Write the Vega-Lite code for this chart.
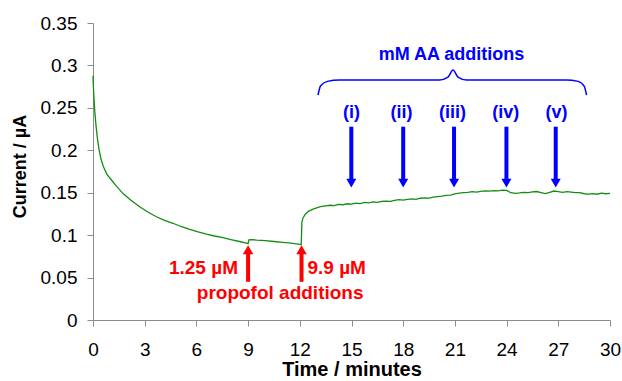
{
  "$schema": "https://vega.github.io/schema/vega-lite/v6.json",
  "width": 517,
  "height": 297,
  "autosize": {"type": "none"},
  "padding": {"left": 93, "top": 23, "right": 12, "bottom": 61},
  "background": "#ffffff",
  "config": {
    "view": {"stroke": null},
    "axis": {
      "grid": false,
      "domainColor": "#8c8c8c",
      "tickColor": "#8c8c8c",
      "tickSize": 6,
      "labelFont": "Liberation Sans",
      "labelFontSize": 19,
      "labelColor": "#000000",
      "titleFont": "Liberation Sans",
      "titleFontWeight": "bold",
      "titleColor": "#000000",
      "labelFlush": false,
      "labelOverlap": false
    }
  },
  "encoding": {
    "x": {
      "field": "t",
      "type": "quantitative",
      "scale": {"domain": [0, 30], "nice": false, "zero": false},
      "axis": {"title": "Time / minutes", "titleFontSize": 20, "values": [0, 3, 6, 9, 12, 15, 18, 21, 24, 27, 30], "labelPadding": 14, "titlePadding": 0}
    },
    "y": {
      "field": "v",
      "type": "quantitative",
      "scale": {"domain": [0, 0.35], "nice": false},
      "axis": {"title": "Current / µA", "titleFontSize": 18, "titleY": 143, "values": [0, 0.05, 0.1, 0.15, 0.2, 0.25, 0.3, 0.35], "format": "~g", "labelPadding": 10, "titlePadding": 11}
    }
  },
  "layer": [
    {
      "data": {"values": [
        {"t": 0, "v": 0.288}, {"t": 0.02, "v": 0.276}, {"t": 0.05, "v": 0.264}, {"t": 0.1, "v": 0.247},
        {"t": 0.17, "v": 0.23}, {"t": 0.25, "v": 0.215}, {"t": 0.35, "v": 0.201}, {"t": 0.46, "v": 0.19},
        {"t": 0.6, "v": 0.181}, {"t": 0.8, "v": 0.172}, {"t": 1.07, "v": 0.165}, {"t": 1.35, "v": 0.158},
        {"t": 1.74, "v": 0.149}, {"t": 2.2, "v": 0.141}, {"t": 2.71, "v": 0.1335}, {"t": 3.2, "v": 0.127},
        {"t": 3.68, "v": 0.1217}, {"t": 4.15, "v": 0.1175}, {"t": 4.64, "v": 0.114}, {"t": 5.1, "v": 0.1102},
        {"t": 5.61, "v": 0.1068}, {"t": 6.1, "v": 0.1039}, {"t": 6.58, "v": 0.1013}, {"t": 7.05, "v": 0.099},
        {"t": 7.55, "v": 0.097}, {"t": 8.0, "v": 0.0948}, {"t": 8.5, "v": 0.0925}, {"t": 8.9, "v": 0.0905},
        {"t": 9.0, "v": 0.090}, {"t": 9.05, "v": 0.0945}, {"t": 9.2, "v": 0.0948}, {"t": 9.5, "v": 0.0942},
        {"t": 10.0, "v": 0.0935}, {"t": 10.5, "v": 0.0925}, {"t": 11.0, "v": 0.0915}, {"t": 11.5, "v": 0.0905},
        {"t": 12.0, "v": 0.0892}, {"t": 12.08, "v": 0.0888}, {"t": 12.1, "v": 0.100}, {"t": 12.12, "v": 0.115},
        {"t": 12.18, "v": 0.120}, {"t": 12.3, "v": 0.124}, {"t": 12.5, "v": 0.128}, {"t": 12.8, "v": 0.131},
        {"t": 13.2, "v": 0.1335}, {"t": 13.5, "v": 0.1345}, {"t": 13.75, "v": 0.1352}, {"t": 14.0, "v": 0.1348},
        {"t": 14.25, "v": 0.1362}, {"t": 14.5, "v": 0.1358}, {"t": 14.75, "v": 0.137}, {"t": 15.0, "v": 0.1366},
        {"t": 15.25, "v": 0.1378}, {"t": 15.5, "v": 0.1372}, {"t": 15.75, "v": 0.1385}, {"t": 16.0, "v": 0.138},
        {"t": 16.25, "v": 0.1392}, {"t": 16.5, "v": 0.1386}, {"t": 16.75, "v": 0.1398}, {"t": 17.0, "v": 0.1402},
        {"t": 17.25, "v": 0.1397}, {"t": 17.5, "v": 0.141}, {"t": 17.75, "v": 0.1418}, {"t": 18.0, "v": 0.1412},
        {"t": 18.25, "v": 0.1422}, {"t": 18.5, "v": 0.1428}, {"t": 18.75, "v": 0.1422}, {"t": 19.0, "v": 0.1435},
        {"t": 19.25, "v": 0.144}, {"t": 19.5, "v": 0.1437}, {"t": 19.75, "v": 0.1448}, {"t": 20.0, "v": 0.1455},
        {"t": 20.25, "v": 0.146}, {"t": 20.5, "v": 0.1468}, {"t": 20.75, "v": 0.1472}, {"t": 21.0, "v": 0.1486},
        {"t": 21.25, "v": 0.1495}, {"t": 21.5, "v": 0.15}, {"t": 21.75, "v": 0.1505}, {"t": 22.0, "v": 0.1512},
        {"t": 22.25, "v": 0.1508}, {"t": 22.5, "v": 0.1516}, {"t": 22.75, "v": 0.1521}, {"t": 23.0, "v": 0.1518},
        {"t": 23.25, "v": 0.1525}, {"t": 23.5, "v": 0.1522}, {"t": 23.75, "v": 0.153}, {"t": 24.0, "v": 0.1527},
        {"t": 24.25, "v": 0.15}, {"t": 24.5, "v": 0.1492}, {"t": 24.75, "v": 0.1497}, {"t": 25.0, "v": 0.1505},
        {"t": 25.25, "v": 0.15}, {"t": 25.5, "v": 0.151}, {"t": 25.75, "v": 0.1514}, {"t": 26.0, "v": 0.1502},
        {"t": 26.25, "v": 0.149}, {"t": 26.5, "v": 0.1505}, {"t": 26.75, "v": 0.152}, {"t": 27.0, "v": 0.1512},
        {"t": 27.25, "v": 0.1505}, {"t": 27.5, "v": 0.1512}, {"t": 27.75, "v": 0.1508}, {"t": 28.0, "v": 0.15},
        {"t": 28.25, "v": 0.1502}, {"t": 28.5, "v": 0.1488}, {"t": 28.75, "v": 0.1484}, {"t": 29.0, "v": 0.149},
        {"t": 29.25, "v": 0.1482}, {"t": 29.5, "v": 0.1494}, {"t": 29.75, "v": 0.1488}, {"t": 30.0, "v": 0.1492}
      ]},
      "mark": {"type": "line", "color": "#138d13", "strokeWidth": 1.3}
    },
    {
      "data": {"values": [
        {"t": 13.06, "v": 0.2651}, {"t": 13.2, "v": 0.2757}, {"t": 13.6, "v": 0.2812}, {"t": 14.3, "v": 0.2828},
        {"t": 20.1, "v": 0.2828}, {"t": 20.6, "v": 0.2862}, {"t": 20.89, "v": 0.2946}, {"t": 21.18, "v": 0.2862},
        {"t": 21.68, "v": 0.2828}, {"t": 27.45, "v": 0.2828}, {"t": 28.15, "v": 0.2812}, {"t": 28.5, "v": 0.2757},
        {"t": 28.64, "v": 0.2651}
      ]},
      "mark": {"type": "line", "color": "#0000ff", "strokeWidth": 1.5, "interpolate": "monotone"}
    },
    {
      "data": {"values": [{"t": 9.0, "v": 0.045, "v2": 0.0815}, {"t": 12.1, "v": 0.045, "v2": 0.0815}]},
      "mark": {"type": "rule", "color": "#ff0000", "strokeWidth": 4},
      "encoding": {"y2": {"field": "v2"}}
    },
    {
      "data": {"values": [{"t": 9.0, "v": 0.0827}, {"t": 12.1, "v": 0.0827}]},
      "mark": {"type": "point", "shape": "triangle-up", "filled": true, "color": "#ff0000", "size": 110, "opacity": 1}
    },
    {
      "data": {"values": [{"t": 14.99, "v": 0.2278, "v2": 0.166}, {"t": 18.0, "v": 0.2278, "v2": 0.166}, {"t": 20.95, "v": 0.2278, "v2": 0.166}, {"t": 23.99, "v": 0.2278, "v2": 0.166}, {"t": 26.85, "v": 0.2278, "v2": 0.166}]},
      "mark": {"type": "rule", "color": "#0000ff", "strokeWidth": 4},
      "encoding": {"y2": {"field": "v2"}}
    },
    {
      "data": {"values": [{"t": 14.99, "v": 0.1613}, {"t": 18.0, "v": 0.1613}, {"t": 20.95, "v": 0.1613}, {"t": 23.99, "v": 0.1613}, {"t": 26.85, "v": 0.1613}]},
      "mark": {"type": "point", "shape": "triangle-down", "filled": true, "color": "#0000ff", "size": 100, "opacity": 1}
    },
    {
      "data": {"values": [
        {"t": 15.0, "v": 0.244, "label": "(i)"}, {"t": 17.9, "v": 0.244, "label": "(ii)"},
        {"t": 20.86, "v": 0.244, "label": "(iii)"}, {"t": 23.95, "v": 0.244, "label": "(iv)"},
        {"t": 26.9, "v": 0.244, "label": "(v)"}, {"t": 20.8, "v": 0.312, "label": "mM AA additions"}
      ]},
      "mark": {"type": "text", "color": "#0000ff", "font": "Liberation Sans", "fontSize": 18, "fontWeight": "bold", "align": "center", "baseline": "middle"},
      "encoding": {"text": {"field": "label"}}
    },
    {
      "data": {"values": [
        {"t": 6.41, "v": 0.061, "label": "1.25 µM"}, {"t": 14.14, "v": 0.061, "label": "9.9 µM"},
        {"t": 10.86, "v": 0.032, "label": "propofol additions"}
      ]},
      "mark": {"type": "text", "color": "#ff0000", "font": "Liberation Sans", "fontSize": 19, "fontWeight": "bold", "align": "center", "baseline": "middle"},
      "encoding": {"text": {"field": "label"}}
    }
  ]
}
